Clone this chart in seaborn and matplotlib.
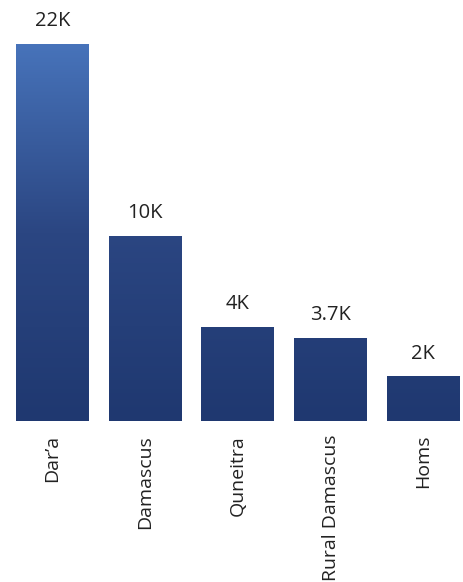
import numpy as np
import pandas as pd
import matplotlib.pyplot as plt
from matplotlib.colors import LinearSegmentedColormap
import seaborn as sns

# Data (bar heights in thousands, labels as printed).
regions = ["Dar\u2019a", "Damascus", "Quneitra", "Rural Damascus", "Homs"]
heights = [22.0, 10.8, 5.5, 4.85, 2.6]
value_labels = ["22K", "10K", "4K", "3.7K", "2K"]

df = pd.DataFrame({"region": regions, "value": heights})

sns.set_theme(style="white")
plt.rcParams["font.family"] = ["Open Sans", "DejaVu Sans"]

fig = plt.figure(figsize=(4.63, 5.82), dpi=100)
ax = fig.add_axes([6 / 463, 161 / 582, 463.75 / 463, 421 / 582])

sns.barplot(data=df, x="region", y="value", color="#34508A", width=0.787, ax=ax)
ymax = 22 * 421 / 377

# Vertical gradient shared by all bars.
cmap = LinearSegmentedColormap.from_list("grad", ["#1F3870", "#2B4682", "#4773BA"])
grad = np.linspace(0, 1, 256).reshape(-1, 1)
for p in ax.patches:
    im = ax.imshow(grad, cmap=cmap, aspect="auto", origin="lower",
                   extent=[-0.5, 4.5, 0, 22], zorder=p.get_zorder() + 0.1)
    im.set_clip_path(p)
ax.set_xlim(-0.5, 4.5)
ax.set_ylim(0, ymax)

for p, lab in zip(ax.patches, value_labels):
    ax.annotate(lab, (p.get_x() + p.get_width() / 2, p.get_height()),
                xytext=(0, 9), textcoords="offset points",
                ha="center", va="bottom", fontsize=14.5, color="#222222")

ax.set_xlabel("")
ax.set_ylabel("")
ax.set_yticks([])
ax.tick_params(axis="x", length=0, pad=10)
plt.setp(ax.get_xticklabels(), rotation=90, fontsize=14, color="#222222",
         va="top", ha="center")
sns.despine(ax=ax, left=True, bottom=True)

fig.savefig("out.png", dpi=100)
